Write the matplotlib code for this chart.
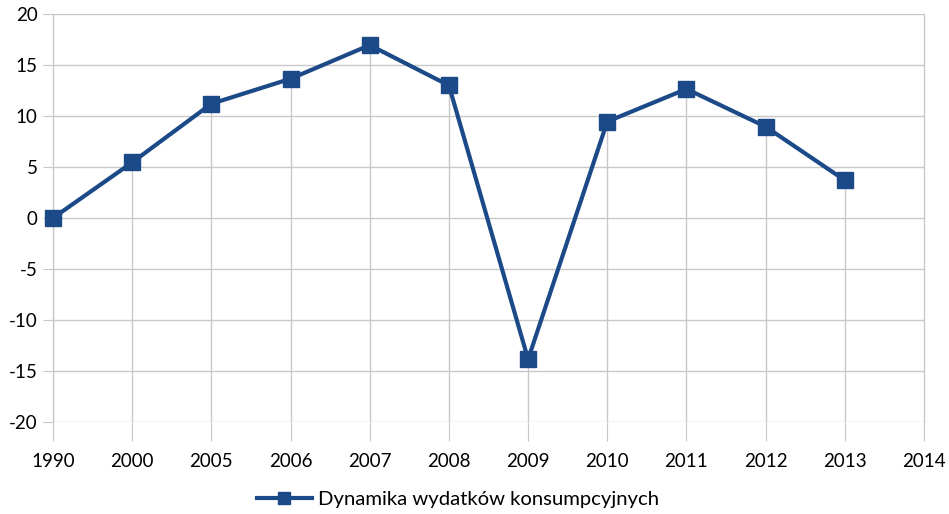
import numpy as np
import matplotlib
matplotlib.use('Agg')
from matplotlib import pyplot as plt

# === Data ===
years = ['1990', '2000', '2005', '2006', '2007', '2008', '2009',
         '2010', '2011', '2012', '2013', '2014']
values = [0.0, 5.45, 11.2, 13.65, 16.95, 13.0, -13.85, 9.45, 12.65, 8.95, 3.7]
series_name = 'Dynamika wydatków konsumpcyjnych'

line_color = '#1c4a88'
grid_color = '#c8c8c8'

plt.rcParams['font.family'] = ['Lato', 'DejaVu Sans']
plt.rcParams['axes.unicode_minus'] = False

fig = plt.figure(figsize=(9.49, 5.14), dpi=100)
ax = fig.add_axes([53/949, 1 - 422/514, 871/949, 408/514])

x = np.arange(len(years))
xv = x[:len(values)]

# drop lines from the bottom to each point
ax.vlines(xv, -20, values, color=grid_color, lw=1, zorder=1)
for y in range(-20, 21, 5):
    ax.axhline(y, color=grid_color, lw=1, zorder=1)

ax.plot(xv, values, color=line_color, lw=3, marker='s', markersize=11.5,
        label=series_name, zorder=3, clip_on=False)

ax.set_xlim(0, len(years) - 1)
ax.set_ylim(-20, 20)
ax.set_xticks(x)
ax.set_xticklabels(years)
ax.set_yticks(range(-20, 21, 5))

for side in ['top', 'bottom']:
    ax.spines[side].set_visible(False)
for side in ['left', 'right']:
    ax.spines[side].set_color(grid_color)
    ax.spines[side].set_linewidth(1)

ax.tick_params(axis='x', length=14, color=grid_color, labelsize=13.5, pad=8)
ax.tick_params(axis='y', length=7, color=grid_color, labelsize=13.5, pad=4)

leg = fig.legend(loc='center', bbox_to_anchor=(458/949, 1 - 499/514), frameon=False,
                 fontsize=14.6, handlelength=2.7, handletextpad=0.3, markerscale=0.8)

fig.savefig('out.png', dpi=100)
